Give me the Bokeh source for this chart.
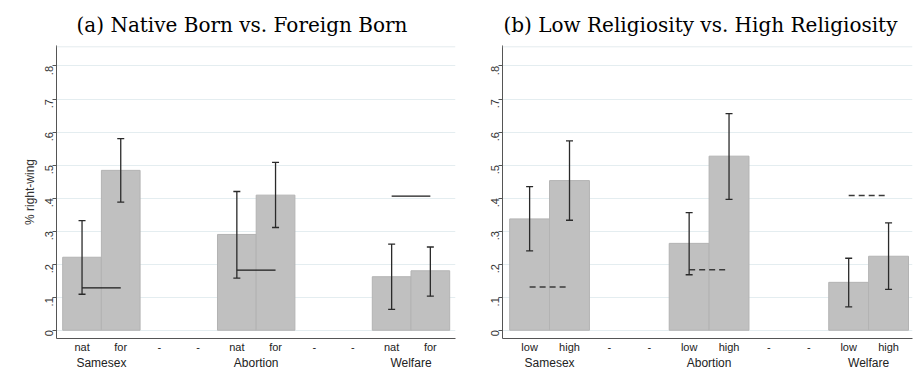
import math
from bokeh.plotting import figure
from bokeh.models import (ColumnDataSource, FixedTicker, LinearAxis, Whisker,
                          TeeHead, Range1d, Span, Title)
from bokeh.layouts import row
from bokeh.embed import file_html
from bokeh.resources import INLINE

# ---------------- data ----------------
groups = ["Samesex", "Abortion", "Welfare"]

# panel (a): native born vs foreign born
a_labels = ["nat", "for"]
native_mean = [0.221, 0.290, 0.162]
native_lo = [0.109, 0.158, 0.063]
native_hi = [0.332, 0.420, 0.261]
foreign_mean = [0.484, 0.409, 0.180]
foreign_lo = [0.388, 0.311, 0.103]
foreign_hi = [0.580, 0.508, 0.252]
ref_a = [0.128, 0.182, 0.406]

# panel (b): low vs high religiosity
b_labels = ["low", "high"]
low_mean = [0.337, 0.263, 0.145]
low_lo = [0.240, 0.168, 0.071]
low_hi = [0.435, 0.356, 0.218]
high_mean = [0.453, 0.527, 0.224]
high_lo = [0.333, 0.396, 0.124]
high_hi = [0.573, 0.656, 0.325]
ref_b = [0.131, 0.183, 0.408]

y_ticks = [0, 0.1, 0.2, 0.3, 0.4, 0.5, 0.6, 0.7, 0.8]
y_tick_labels = ["0", ".1", ".2", ".3", ".4", ".5", ".6", ".7", ".8"]

title_a = "(a) Native Born vs. Foreign Born"
title_b = "(b) Low Religiosity vs. High Religiosity"

SANS = "Arial"
SERIF = "DejaVu Serif"
Y0 = -0.025


def make_panel(title, sub_labels, m1, lo1, hi1, m2, lo2, hi2, ref, dashed,
               width, left_border, right_border, x_range, title_offset, ylabel):
    n_groups = len(groups)
    slot = 4  # each group takes 2 bars + 2 empty slots
    x1 = [slot * g for g in range(n_groups)]
    x2 = [slot * g + 1 for g in range(n_groups)]

    p = figure(width=width, height=372, output_backend="svg", toolbar_location=None,
               x_range=Range1d(*x_range), y_range=Range1d(Y0, 0.862),
               min_border_left=left_border, min_border_right=right_border,
               min_border_top=45, min_border_bottom=31, x_axis_type=None)
    p.outline_line_color = None
    p.background_fill_color = "white"
    p.border_fill_color = "white"

    t = Title(text=title, align="left", text_font=SERIF, text_font_size="20px",
              text_font_style="normal", text_color="black", offset=title_offset,
              standoff=18)
    p.add_layout(t, "above")

    # grid
    p.xgrid.visible = False
    p.ygrid.ticker = FixedTicker(ticks=y_ticks)
    p.ygrid.grid_line_color = "#e4edf0"
    p.ygrid.grid_line_width = 1

    # top faint line
    p.add_layout(Span(location=0.858, dimension="width", line_color="#e4ebee",
                      line_width=1))

    # bars
    xs = x1 + x2
    tops = m1 + m2
    src = ColumnDataSource(dict(x=xs, top=tops, lo=lo1 + lo2, hi=hi1 + hi2))
    p.vbar(x="x", top="top", bottom=0, width=1.0, source=src,
           fill_color="#c0c0c0", line_color="#b3b3b3", line_width=1)

    # error bars
    head = dict(size=7, line_color="#2a2a2a", line_width=1.3)
    w = Whisker(base="x", lower="lo", upper="hi", source=src,
                line_color="#2a2a2a", line_width=1.3, level="overlay",
                upper_head=TeeHead(**head), lower_head=TeeHead(**head))
    p.add_layout(w)

    # reference lines
    rsrc = ColumnDataSource(dict(x0=x1, x1=x2, y=ref))
    if dashed:
        p.segment(x0="x0", y0="y", x1="x1", y1="y", source=rsrc,
                  line_color="#3a3a3a", line_width=1.5, line_dash="6 4")
    else:
        p.segment(x0="x0", y0="y", x1="x1", y1="y", source=rsrc,
                  line_color="#1a1a1a", line_width=1.3)

    # y axis
    ya = p.yaxis[0]
    ya.ticker = FixedTicker(ticks=y_ticks)
    ya.major_label_overrides = {v: s for v, s in zip(y_ticks, y_tick_labels)}
    ya.major_label_orientation = math.pi / 2
    ya.major_label_text_font = SANS
    ya.major_label_text_font_size = "11px"
    ya.major_label_text_color = "#333333"
    ya.major_label_standoff = 3
    ya.major_tick_in = 0
    ya.major_tick_out = 4
    ya.minor_tick_line_color = None
    ya.axis_line_color = "#555555"
    ya.major_tick_line_color = "#555555"
    if ylabel:
        ya.axis_label = ylabel
        ya.axis_label_text_font = SANS
        ya.axis_label_text_font_size = "12px"
        ya.axis_label_text_font_style = "normal"
        ya.axis_label_text_color = "#333333"
        ya.axis_label_standoff = 2

    # x axis: sub-labels per slot
    n_slots = slot * (n_groups - 1) + 2
    slot_ticks = list(range(n_slots))
    slot_text = {}
    for s in slot_ticks:
        k = s % slot
        slot_text[s] = sub_labels[k] if k < 2 else "-"
    xa = LinearAxis(ticker=FixedTicker(ticks=slot_ticks),
                    major_label_overrides=slot_text)
    xa.major_label_text_font = SANS
    xa.major_label_text_font_size = "11px"
    xa.major_label_text_color = "#222222"
    xa.major_label_standoff = 2
    xa.major_tick_in = 0
    xa.major_tick_out = 0
    xa.major_tick_line_color = None
    xa.minor_tick_line_color = None
    xa.axis_line_color = "#555555"
    p.add_layout(xa, "below")

    # x axis: group labels (second row)
    gpos = [slot * g + 0.5 for g in range(n_groups)]
    ga = LinearAxis(ticker=FixedTicker(ticks=gpos),
                    major_label_overrides={v: s for v, s in zip(gpos, groups)})
    ga.major_label_text_font = SANS
    ga.major_label_text_font_size = "12px"
    ga.major_label_text_color = "#222222"
    ga.major_label_standoff = 0
    ga.major_tick_in = 0
    ga.major_tick_out = 0
    ga.major_tick_line_color = None
    ga.minor_tick_line_color = None
    ga.axis_line_color = None
    p.add_layout(ga, "below")
    return p


pa = make_panel(title_a, a_labels, native_mean, native_lo, native_hi,
                foreign_mean, foreign_lo, foreign_hi, ref_a, False,
                468, 56, 13, (-0.66, 9.65), 20, "% right-wing")
pb = make_panel(title_b, b_labels, low_mean, low_lo, low_hi,
                high_mean, high_lo, high_hi, ref_b, True,
                445, 34, 1, (-0.68, 9.6), 1, None)

layout = row(pa, pb)
open("out.html", "w").write(file_html(layout, INLINE))
